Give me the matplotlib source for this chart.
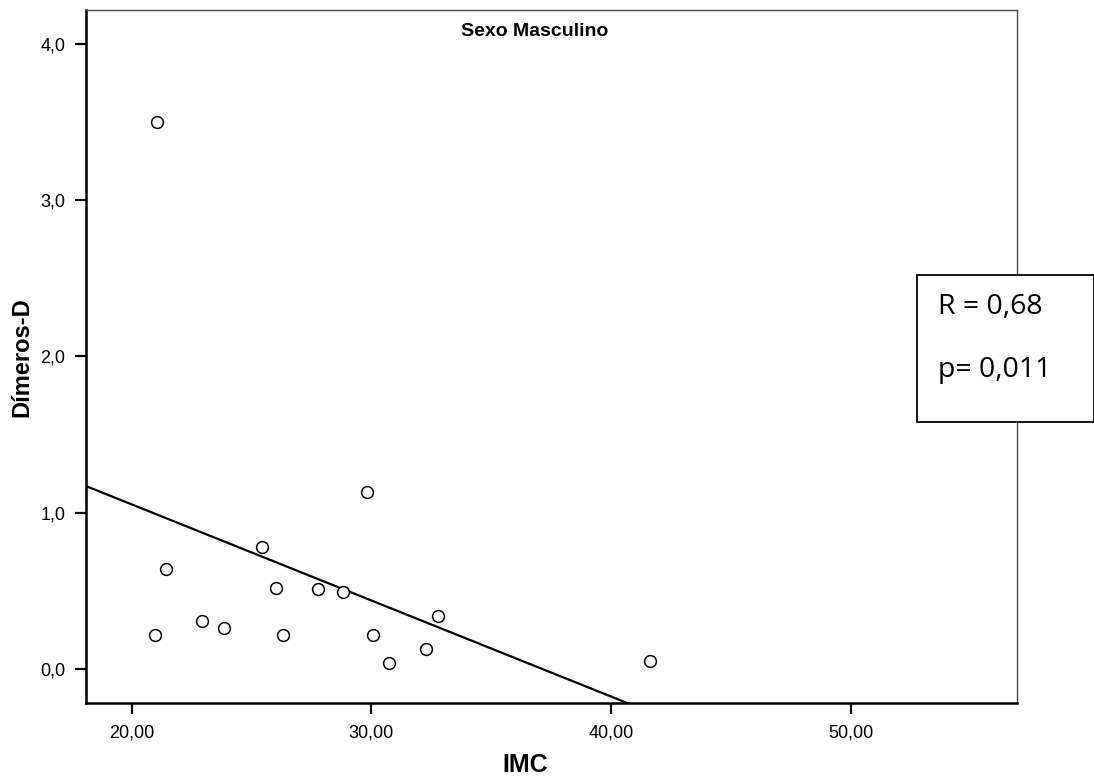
import matplotlib
matplotlib.use('Agg')
import matplotlib.pyplot as plt
from matplotlib.patches import Rectangle

# data
imc = [21.05, 20.98, 21.43, 22.94, 23.86, 25.44, 26.02, 26.31, 27.78,
       28.81, 29.80, 30.06, 30.72, 32.29, 32.76, 41.60]
dimeros = [3.50, 0.22, 0.64, 0.31, 0.26, 0.78, 0.52, 0.22, 0.51,
           0.49, 1.13, 0.22, 0.04, 0.13, 0.34, 0.05]

# fitted line (y = intercept + slope * x)
fit_intercept = 2.283
fit_slope = -0.0615

x_ticks = [20, 30, 40, 50]
y_ticks = [0, 1, 2, 3, 4]
stats_text = ['R = 0,68', 'p= 0,011']

plt.rcParams['font.family'] = ['Liberation Sans', 'DejaVu Sans']

fig = plt.figure(figsize=(10.94, 7.78), dpi=100)
ax = fig.add_axes([86 / 1094, 1 - 703.3 / 778, (1016.7 - 86) / 1094, (703.3 - 10) / 778])

ax.plot(imc, dimeros, 'o', markersize=8.5, markerfacecolor='white',
        markeredgecolor='black', markeredgewidth=1.1, zorder=3)
ax.axline((0, fit_intercept), slope=fit_slope, color='black', lw=1.6, zorder=2)

ax.set_xlim(18.09, 56.92)
ax.set_ylim(-0.22, 4.218)
ax.set_xticks(x_ticks)
ax.set_xticklabels([f'{v:.2f}'.replace('.', ',') for v in x_ticks], fontsize=13)
ax.set_yticks(y_ticks)
ax.set_yticklabels([f'{v:.1f}'.replace('.', ',') for v in y_ticks], fontsize=13)
ax.tick_params(direction='out', length=8, width=1.6, color='black', pad=7)

for side in ['left', 'bottom']:
    ax.spines[side].set_linewidth(1.8)
    ax.spines[side].set_color('black')
for side in ['top', 'right']:
    ax.spines[side].set_linewidth(1.0)
    ax.spines[side].set_color('#444444')

fig.text(535 / 1094, 1 - 32 / 778, 'Sexo Masculino', ha='center', va='center',
         fontsize=14, fontweight='bold')
fig.text(525 / 1094, 1 - 765 / 778, 'IMC', ha='center', va='center',
         fontsize=18, fontweight='bold')
fig.text(22 / 1094, 1 - 357 / 778, 'Dímeros-D', ha='center', va='center',
         rotation=90, fontsize=17, fontweight='bold')

# statistics box on the right edge
box = Rectangle((916.7 / 1094, 1 - 422 / 778), (1094 - 916.7) / 1094, (422 - 275) / 778,
                transform=fig.transFigure, facecolor='white', edgecolor='black',
                linewidth=1.3, zorder=5)
fig.patches.append(box)
fig.text(938 / 1094, 1 - 307 / 778, stats_text[0], ha='left', va='center',
         fontsize=20.5, family=['Open Sans', 'DejaVu Sans'], zorder=6)
fig.text(938 / 1094, 1 - 370 / 778, stats_text[1], ha='left', va='center',
         fontsize=20.5, family=['Open Sans', 'DejaVu Sans'], zorder=6)

fig.savefig('out.png', dpi=100)
